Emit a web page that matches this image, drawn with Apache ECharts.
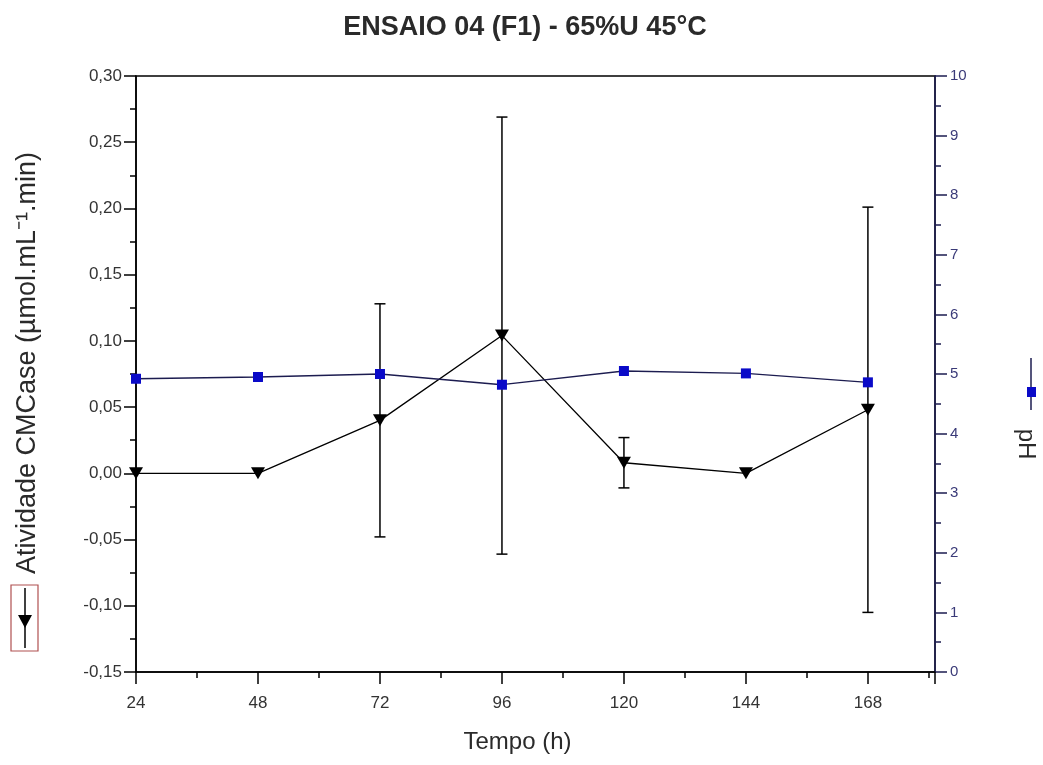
<!DOCTYPE html>
<html>
<head>
<meta charset="utf-8">
<script src="https://cdn.jsdelivr.net/npm/echarts@6/dist/echarts.min.js"></script>
<style>html,body{margin:0;padding:0;background:#fff;}#c{width:1043px;height:765px;}</style>
</head>
<body>
<div id="c"></div>
<script>
// ---- data ----
var tempo = [24, 48, 72, 96, 120, 144, 168];
var atividade = [0.000, 0.000, 0.040, 0.104, 0.008, 0.000, 0.048];
var erroAtividade = [0, 0, 0.088, 0.165, 0.019, 0, 0.153];
var ph = [4.92, 4.95, 5.00, 4.82, 5.05, 5.01, 4.86];
var xTicks = [24, 48, 72, 96, 120, 144, 168];

var titleText = 'ENSAIO 04 (F1) - 65%U 45°C';
var xName = 'Tempo (h)';
var yLeftName = 'Atividade CMCase (µmol.mL⁻¹.min)';
var yRightName = 'pH';

var FONT = '"Liberation Sans", Arial, sans-serif';

var chart = echarts.init(document.getElementById('c'));

var actData = tempo.map(function (t, i) { return [t, atividade[i]]; });
var phData = tempo.map(function (t, i) { return [t, ph[i]]; });
var errData = [];
tempo.forEach(function (t, i) {
  if (erroAtividade[i] > 0) errData.push([t, atividade[i] - erroAtividade[i], atividade[i] + erroAtividade[i]]);
});

var option = {
  backgroundColor: '#fff',
  animation: false,
  title: {
    text: titleText,
    left: 520, top: 9, textAlign: 'center',
    textStyle: { fontFamily: FONT, fontSize: 27, fontWeight: 'bold', color: '#2a2a2a' }
  },
  grid: { left: 136, right: 108, top: 76, bottom: 93, outerBoundsMode: 'none', containLabel: false,
    show: true, borderColor: '#000', borderWidth: 1.5, backgroundColor: 'transparent' },
  xAxis: {
    type: 'value', min: 24, max: 181.2, interval: 24,
    name: xName, nameLocation: 'middle', nameGap: 58,
    nameTextStyle: { fontFamily: FONT, fontSize: 24, color: '#2a2a2a', padding: [0, 36, 0, 0] },
    axisLine: { show: true, onZero: false, lineStyle: { color: '#000', width: 1.5 } },
    axisTick: { show: true, length: 12, lineStyle: { color: '#000', width: 1.5 } },
    minorTick: { show: true, splitNumber: 2, length: 6, lineStyle: { color: '#000', width: 1.5 } },
    splitLine: { show: false },
    axisLabel: { fontFamily: FONT, fontSize: 17, color: '#333', margin: 23, showMaxLabel: false,
      formatter: function (v) { return xTicks.indexOf(v) >= 0 ? String(v) : ''; } }
  },
  yAxis: [
    {
      type: 'value', min: -0.15, max: 0.30, interval: 0.05, position: 'left',
      name: yLeftName, nameLocation: 'middle', nameGap: 95, nameRotate: 90,
      nameTextStyle: { fontFamily: FONT, fontSize: 27, color: '#2a2a2a', padding: [0, 0, 0, 22] },
      axisLine: { show: true, onZero: false, lineStyle: { color: '#000', width: 1.5 } },
      axisTick: { show: true, length: 12, lineStyle: { color: '#000', width: 1.5 } },
      minorTick: { show: true, splitNumber: 2, length: 6, lineStyle: { color: '#000', width: 1.5 } },
      splitLine: { show: false },
      axisLabel: { fontFamily: FONT, fontSize: 17, color: '#333', margin: 14,
        formatter: function (v) { return v.toFixed(2).replace('.', ','); } }
    },
    {
      type: 'value', min: 0, max: 10, interval: 1, position: 'right',
      name: yRightName, nameLocation: 'middle', nameGap: 79, nameRotate: -90,
      nameTextStyle: { fontFamily: FONT, fontSize: 24, color: '#2a2a2a', padding: [0, 0, 0, 140] },
      axisLine: { show: true, onZero: false, lineStyle: { color: '#1c1c50', width: 1.5 } },
      axisTick: { show: true, length: 12, lineStyle: { color: '#1c1c50', width: 1.5 } },
      minorTick: { show: true, splitNumber: 2, length: 6, lineStyle: { color: '#1c1c50', width: 1.5 } },
      splitLine: { show: false },
      axisLabel: { fontFamily: FONT, fontSize: 15, color: '#3a3a78', margin: 15 }
    }
  ],
  graphic: [
    // legend key for activity (left axis title)
    { type: 'rect', shape: { x: 11, y: 585, width: 27, height: 66 }, style: { fill: 'none', stroke: '#b05050', lineWidth: 1.2 }, z: 100 },
    { type: 'line', shape: { x1: 25, y1: 588, x2: 25, y2: 648 }, style: { stroke: '#000', lineWidth: 1.5 }, z: 101 },
    { type: 'polygon', shape: { points: [[18, 615], [32, 615], [25, 628]] }, style: { fill: '#000' }, z: 102 },
    // legend key for pH (right axis title)
    { type: 'line', shape: { x1: 1031, y1: 358, x2: 1031, y2: 410 }, style: { stroke: '#1c1c50', lineWidth: 1.5 }, z: 101 },
    { type: 'rect', shape: { x: 1027, y: 387, width: 9, height: 10 }, style: { fill: '#0a0ac8' }, z: 102 }
  ],
  series: [
    {
      name: 'Erro', type: 'custom', yAxisIndex: 0, z: 2,
      data: errData,
      encode: { x: 0, y: [1, 2] },
      renderItem: function (params, api) {
        var x = api.value(0), lo = api.value(1), hi = api.value(2);
        var p1 = api.coord([x, hi]), p2 = api.coord([x, lo]);
        var w = 5.5;
        var st = { stroke: '#000', lineWidth: 1.5 };
        return { type: 'group', children: [
          { type: 'line', shape: { x1: p1[0], y1: p1[1], x2: p2[0], y2: p2[1] }, style: st },
          { type: 'line', shape: { x1: p1[0] - w, y1: p1[1], x2: p1[0] + w, y2: p1[1] }, style: st },
          { type: 'line', shape: { x1: p2[0] - w, y1: p2[1], x2: p2[0] + w, y2: p2[1] }, style: st }
        ] };
      }
    },
    {
      name: 'Atividade', type: 'line', yAxisIndex: 0, z: 3,
      data: actData,
      symbol: 'triangle', symbolRotate: 180, symbolSize: [14, 12],
      itemStyle: { color: '#000' },
      lineStyle: { color: '#000', width: 1.3 }
    },
    {
      name: 'pH', type: 'line', yAxisIndex: 1, z: 4,
      data: phData,
      symbol: 'rect', symbolSize: 10,
      itemStyle: { color: '#0a0ac8' },
      lineStyle: { color: '#1c1c50', width: 1.3 }
    }
  ]
};
chart.setOption(option);
</script>
</body>
</html>
